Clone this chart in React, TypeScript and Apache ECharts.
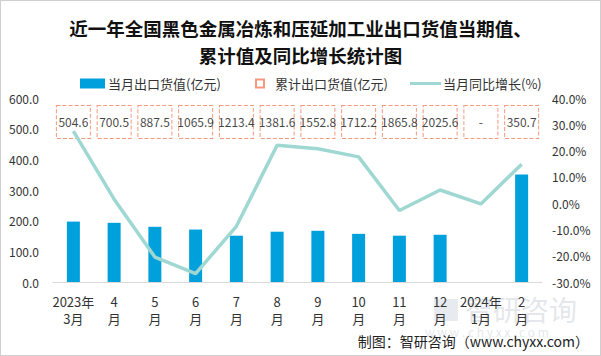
import React, { useEffect, useRef } from "react";
import * as echarts from "echarts";

const categories = ["2023年\n3月", "4\n月", "5\n月", "6\n月", "7\n月", "8\n月", "9\n月", "10\n月", "11\n月", "12\n月", "2024年\n1月", "2\n月"];
const monthlyValues: (number | null)[] = [197, 193, 180, 171, 151, 164, 167, 157, 151, 154, null, 350.7];
const cumulativeValues: (number | null)[] = [504.6, 700.5, 887.5, 1065.9, 1213.4, 1381.6, 1552.8, 1712.2, 1865.8, 2025.6, null, 350.7];
const yoyGrowth: (number | null)[] = [27.4, 1.5, -20.5, -26.8, -8.8, 22.0, 20.7, 17.6, -2.8, 5.0, -0.3, 14.8];
const leftTicks = { min: 0, max: 600, interval: 100 };
const rightTicks = { min: -30, max: 40, interval: 10 };
const LABEL_ROW = 522;

const FONT = "'Noto Sans CJK SC', 'Noto Sans', sans-serif";

export default function App() {
  const ref = useRef<HTMLDivElement>(null);
  useEffect(() => {
    const chart = echarts.init(ref.current!, null, { renderer: "svg" });
    chart.setOption({
      animation: false,
      textStyle: { fontFamily: FONT },
      title: {
        text: "近一年全国黑色金属冶炼和压延加工业出口货值当期值、\n累计值及同比增长统计图",
        left: "center",
        top: 8,
        textStyle: { fontSize: 18.5, fontWeight: "bold", color: "#111", lineHeight: 27, fontFamily: FONT },
      },
      legend: [
        {
          left: 74, top: 71, itemWidth: 25, itemHeight: 10, itemGap: 0,
          data: [{ name: "当月出口货值(亿元)", icon: "rect" }],
          textStyle: { fontSize: 13, color: "#333", padding: [0, 0, 0, -2] },
        },
        {
          left: 249, top: 71, itemWidth: 8, itemHeight: 8,
          data: [{ name: "累计出口货值(亿元)", icon: "rect" }],
          textStyle: { fontSize: 13, color: "#333", padding: [0, 0, 0, 6] },
        },
        {
          left: 404, top: 71, itemWidth: 31, itemHeight: 3,
          data: [{ name: "当月同比增长(%)", icon: "rect", itemStyle: { color: "#9FD8D3" } }],
          textStyle: { fontSize: 13, color: "#333", padding: [0, 0, 0, -3] },
        },
      ],
      grid: { left: 52, right: 58, top: 97, bottom: 73 },
      xAxis: {
        type: "category",
        data: categories,
        axisTick: { show: false },
        axisLine: { lineStyle: { color: "#d9d9d9", width: 1 } },
        axisLabel: { color: "#333", fontSize: 13, lineHeight: 17, margin: 11, interval: 0 },
      },
      yAxis: [
        {
          type: "value", ...leftTicks,
          splitLine: { show: false }, axisLine: { show: false }, axisTick: { show: false },
          axisLabel: { color: "#333", fontSize: 12, margin: 14, formatter: (v: number) => v.toFixed(1) },
        },
        {
          type: "value", ...rightTicks,
          splitLine: { show: false }, axisLine: { show: false }, axisTick: { show: false },
          axisLabel: { color: "#333", fontSize: 12, margin: 10, formatter: (v: number) => v.toFixed(1) + "%" },
        },
      ],
      series: [
        {
          name: "当月出口货值(亿元)",
          type: "bar",
          data: monthlyValues,
          barWidth: 13,
          itemStyle: { color: "#00A0DC" },
          z: 2,
        },
        {
          name: "累计出口货值(亿元)",
          type: "scatter",
          yAxisIndex: 0,
          data: cumulativeValues.map((_, i) => [i, LABEL_ROW]),
          symbol: "rect",
          symbolSize: [34, 33],
          itemStyle: { color: "#ffffff", borderColor: "#F2805E", borderWidth: 1, borderType: "dashed" },
          label: {
            show: true,
            position: "inside",
            color: "#111",
            fontSize: 12,
            formatter: (p: any) => {
              const v = cumulativeValues[p.dataIndex];
              return v == null ? "-" : v.toFixed(1);
            },
          },
          z: 3,
        },
        {
          name: "当月同比增长(%)",
          type: "line",
          yAxisIndex: 1,
          data: yoyGrowth,
          symbol: "none",
          lineStyle: { color: "#9FD8D3", width: 3.5 },
          itemStyle: { color: "#9FD8D3" },
          z: 4,
        },
      ],
      graphic: [
        {
          type: "text", left: 464, top: 294, z: 0, silent: true,
          style: { text: "智研咨询", fontSize: 28, fill: "rgba(160,170,185,0.3)", fontFamily: FONT },
        },
        {
          type: "text", left: 424, top: 324, z: 0, silent: true,
          style: { text: "w w w . c h y x x . c o m", fontSize: 12, fill: "rgba(160,170,185,0.3)", fontFamily: FONT },
        },
        {
          type: "rect", shape: { x: 433, y: 298, width: 24, height: 22 }, z: 0, silent: true,
          style: { fill: "rgba(160,175,195,0.25)" },
        },
        {
          type: "text", right: 11, top: 333, z: 10,
          style: { text: "制图：智研咨询（www.chyxx.com）", fontSize: 14, fill: "#222", fontFamily: FONT },
        },
      ],
    });
    return () => chart.dispose();
  }, []);
  return (
    <div
      ref={ref}
      style={{
        position: "fixed", left: 0, top: 0, width: 601, height: 356,
        boxSizing: "border-box", border: "1px solid #cfcfcf", background: "#fff",
      }}
    />
  );
}
